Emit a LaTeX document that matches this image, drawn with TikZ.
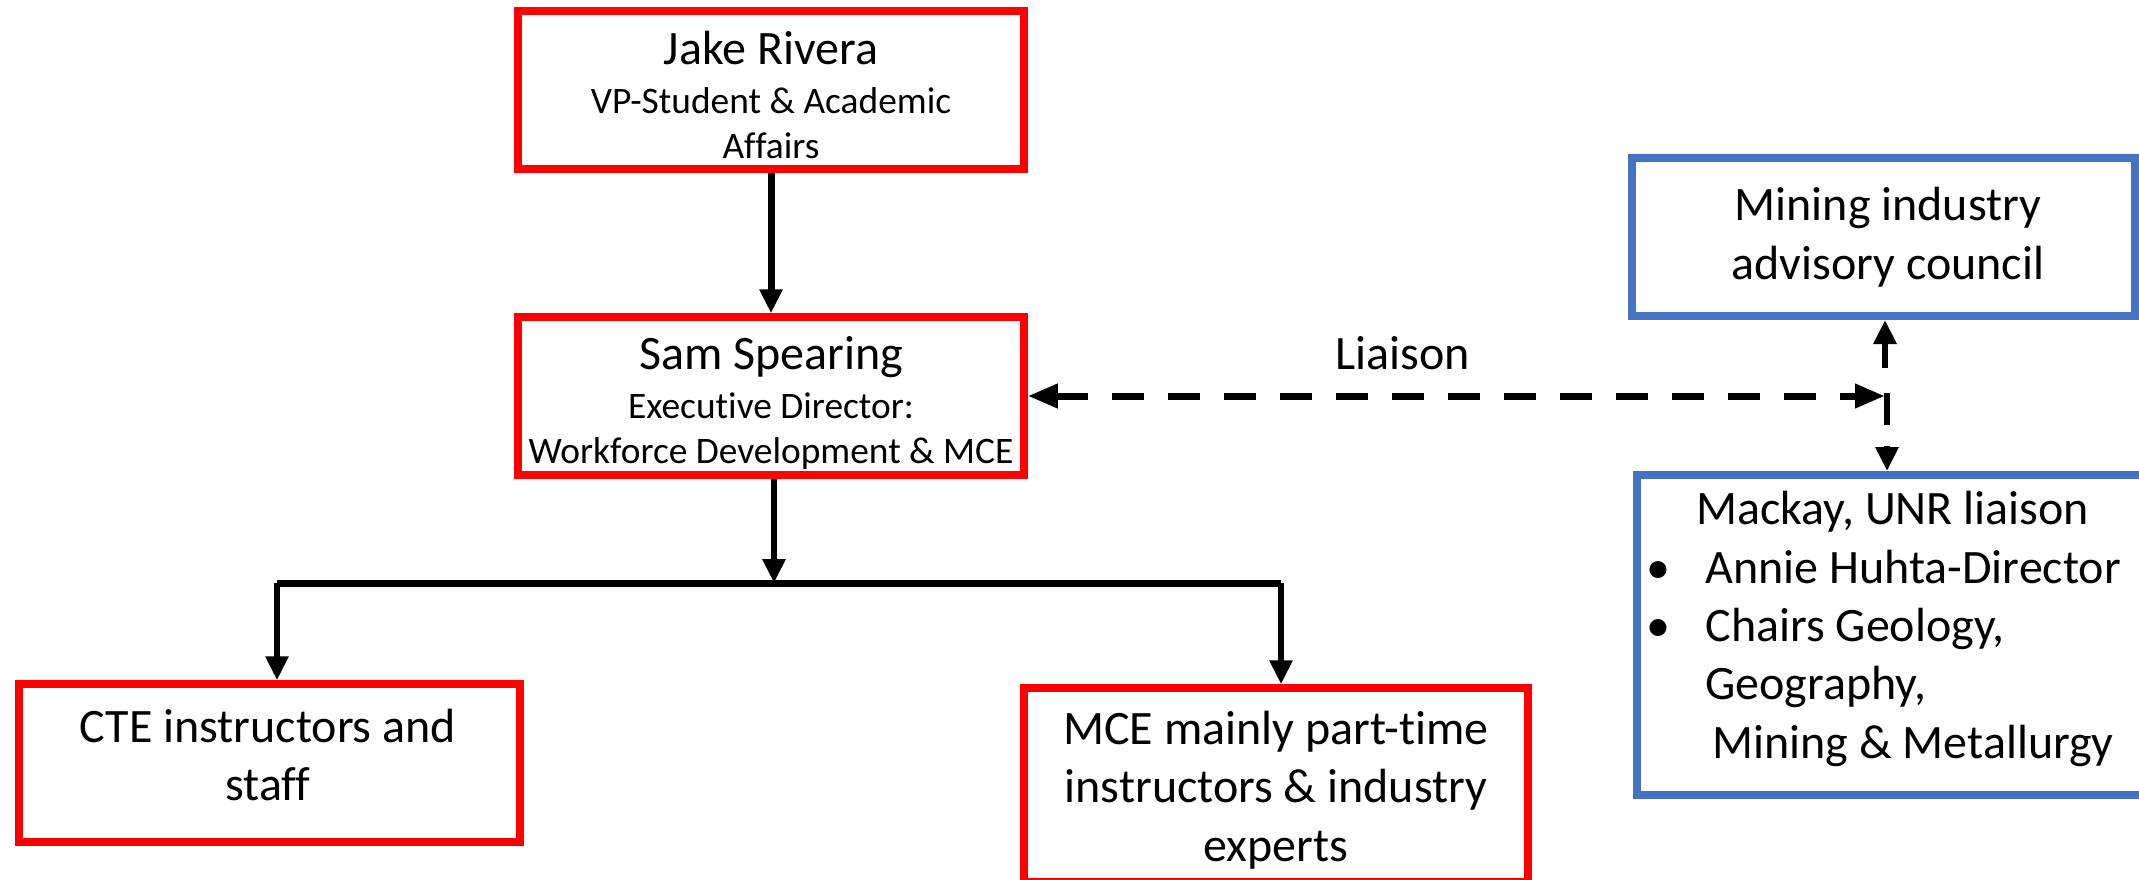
\documentclass[tikz,border=0pt]{standalone}
\usepackage{fontspec}
\setmainfont{Carlito}[Ligatures={NoCommon}]
\usetikzlibrary{arrows.meta}
\definecolor{boxblue}{HTML}{4472C4}
\newcommand\fbig{\fontsize{24}{29.2}\selectfont}
\newcommand\fsml{\fontsize{18.7}{22.8}\selectfont}
\tikzset{
  redbox/.style={draw=red, line width=3.75pt, rectangle, inner sep=0pt},
  bluebox/.style={draw=boxblue, line width=4pt, rectangle, inner sep=0pt},
  txt/.style={inner sep=0pt, align=center, font=\fbig},
  conn/.style={line width=3pt, -{Triangle[length=12pt,width=11pt]}},
  liaisonline/.style={line width=3.5pt, dash pattern=on 16pt off 12pt,
    {Triangle[length=15pt,width=11.5pt]}-{Triangle[length=15pt,width=11.5pt]}},
}
\begin{document}
\begin{tikzpicture}[x=0.5pt,y=-0.5pt]
\fill[white] (0,0) rectangle (2139,879);
\useasboundingbox (0,0) rectangle (2139,879);

% boxes
\node[redbox, minimum width=253pt, minimum height=79pt] (jake) at (771,90) {};
\node[redbox, minimum width=253pt, minimum height=79pt] (sam) at (771,396) {};
\node[redbox, minimum width=250.5pt, minimum height=79pt] (cte) at (269.5,763) {};
\node[redbox, minimum width=252pt, minimum height=97pt] (mce) at (1276,785) {};
\node[bluebox, minimum width=251.5pt, minimum height=79pt] (mining) at (1883.5,237) {};
\node[bluebox, minimum width=254pt, minimum height=160pt] (mackay) at (1891,635) {};

% texts
\node[txt, font=\fsml] (jaket) at (771,95) {{\fbig Jake Rivera}\\[1.5pt]VP-Student \& Academic\\Affairs};
\node[txt, font=\fsml] (samt) at (771,403) {{\fbig Sam Spearing}\\[1.5pt]Executive Director:\\Workforce Development \& MCE};
\node[txt] (ctet) at (268,755) {CTE instructors and\\staff};
\node[txt] (mcet) at (1276,790) {MCE mainly part-time\\instructors \& industry\\experts};
\node[txt] (miningt) at (1888,237) {Mining industry\\advisory council};
\node[txt] (liaison) at (1403,353) {Liaison};
\node[inner sep=0pt, align=left, font=\fbig, anchor=west] (mackayt) at (1646,629)
  {\hspace*{25pt}Mackay, UNR liaison\\
   \makebox[29.5pt][l]{\textbullet}Annie Huhta-Director\\
   \makebox[29.5pt][l]{\textbullet}Chairs Geology,\\
   \hspace*{29.5pt}Geography,\\
   \hspace*{33pt}Mining \& Metallurgy};

% connectors
\coordinate (barmid) at (774,583);
\coordinate (bl) at (277,583);
\coordinate (br) at (1281,583);
\coordinate (vu) at (1885,368);
\coordinate (vr) at (1885,398);
\coordinate (vd1) at (1887,393);
\coordinate (vd2) at (1887,425);
\coordinate (vd3) at (1887,446);

\draw[conn, line width=3.5pt] (jake.south) -- (sam.north);
\draw[conn] (sam.south -| barmid) -- (barmid);
\draw[line width=3.5pt] (bl) -- (br);
\draw[conn] (bl) -- (bl |- cte.north);
\draw[conn] (br) -- (br |- mce.north);
\draw[liaisonline] (sam.east) -- (sam.east -| vr);
\draw[conn] (vu) -- (vu |- mining.south);
\draw[line width=3pt] (vd1) -- (vd2);
\draw[conn] (vd3) -- (vd3 |- mackay.north);
\end{tikzpicture}
\end{document}
